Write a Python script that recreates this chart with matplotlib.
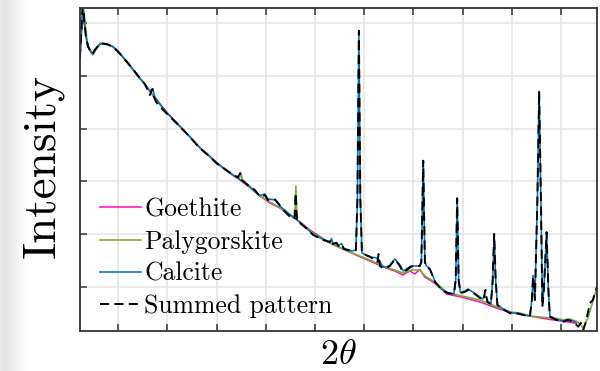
import matplotlib
matplotlib.use("Agg")
import matplotlib.pyplot as plt
from matplotlib.lines import Line2D
import numpy as np

# ---- data (2theta in degrees, intensity in counts) ----
summed_x = [6.10, 6.25, 6.40, 6.55, 6.71, 6.91, 7.11, 7.39, 7.62, 7.93, 8.20, 8.81, 9.48, 9.99,
            10.47, 11.01, 11.59, 12.20, 12.70, 13.21, 13.47, 13.62, 13.85, 14.23, 14.91, 15.92,
            16.60, 17.28, 18.29, 19.11, 19.99, 20.83, 21.68, 22.15, 22.41, 22.56, 23.37, 23.88,
            24.39, 24.70, 24.90, 25.20, 25.61, 25.91, 26.32, 26.76, 27.44, 27.90, 28.03, 28.15,
            28.46, 29.07, 29.81, 30.82, 31.50, 31.68, 31.81, 32.18, 32.37, 32.69, 32.93, 33.33,
            33.74, 34.15, 34.30, 34.45, 34.60, 34.76, 35.16, 35.57, 36.08, 36.33, 36.45, 36.59,
            36.89, 37.27, 37.60, 38.11, 38.55, 38.95, 39.33, 39.74, 40.14, 40.65, 40.80, 40.99,
            41.16, 41.31, 41.67, 42.17, 42.86, 43.53, 44.11, 44.29, 44.44, 44.59, 44.77, 45.22,
            45.56, 46.24, 46.75, 47.10, 47.31, 47.51, 47.87, 48.05, 48.20, 48.35, 48.53, 49.12,
            49.80, 50.41, 51.15, 51.83, 52.03, 52.16, 52.34, 52.59, 52.77, 52.95, 53.10, 53.25,
            53.53, 53.71, 53.86, 54.54, 55.21, 55.69, 56.23, 56.74, 57.01, 57.25, 57.52, 57.93,
            58.23, 58.43, 58.64]
summed_y = [5341, 5872, 6450, 6024, 5759, 5569, 5493, 5417, 5493, 5569, 5620, 5607, 5555, 5461,
            5360, 5240, 5104, 4956, 4847, 4639, 4753, 4601, 4506, 4417, 4291, 4102,
            3974, 3842, 3627, 3500, 3342, 3234, 3120, 3082, 3158, 3025, 2898, 2836,
            2708, 2712, 2741, 2646, 2665, 2659, 2570, 2456, 2329, 2285, 2779, 2247,
            2209, 2114, 1982, 1887, 1849, 1900, 1811, 1830, 1773, 1811, 1716, 1697,
            1678, 1697, 2646, 5859, 2646, 1640, 1602, 1570, 1507, 1469, 1621, 1393,
            1355, 1355, 1393, 1520, 1412, 1279, 1317, 1380, 1393, 1393, 1469, 3392,
            1469, 1374, 1330, 1095, 938, 875, 862, 1127, 2678, 1127, 881, 900,
            938, 862, 786, 748, 938, 710, 672, 1127, 2000, 1127, 653, 571,
            495, 501, 463, 431, 748, 1203, 748, 2646, 4715, 2646, 621, 938,
            2033, 938, 431, 368, 336, 368, 336, 241, 311, 178, 330, 685,
            748, 875, 995]

goethite_x = [6.10, 6.25, 6.40, 6.55, 6.71, 6.91, 7.11, 7.39, 7.62, 7.93, 8.20, 8.81, 9.48, 9.99,
              10.47, 11.01, 11.59, 12.20, 12.70, 13.21, 13.72, 14.23, 14.91, 15.92, 16.60, 17.28,
              18.29, 19.11, 19.99, 20.83, 21.68, 22.36, 23.37, 24.39, 25.41, 26.42, 27.44, 28.46,
              29.78, 31.50, 33.03, 34.15, 35.57, 37.20, 38.11, 38.92, 39.63, 40.14, 40.65, 41.16,
              41.67, 42.68, 43.36, 44.72, 46.75, 48.78, 50.41, 52.16, 53.86, 55.56, 56.57]
goethite_y = [5341, 5872, 6290, 6024, 5759, 5569, 5493, 5417, 5493, 5569, 5620, 5607, 5555, 5461,
              5360, 5240, 5104, 4956, 4847, 4715, 4582, 4468, 4316, 4107, 3974, 3842,
              3633, 3500, 3348, 3225, 3111, 3025, 2883, 2722, 2589, 2494, 2361, 2228,
              2038, 1830, 1697, 1602, 1488, 1355, 1298, 1222, 1298, 1241, 1327, 1179,
              1127, 995, 862, 810, 710, 571, 492, 431, 378, 336, 306]

palygorskite_x = [6.10, 6.25, 6.50, 6.66, 6.81, 7.01, 7.39, 7.72, 8.20, 8.81, 9.48, 9.99, 10.47,
                  11.01, 11.59, 12.20, 12.70, 13.21, 13.72, 14.23, 14.91, 15.92, 16.60, 17.28,
                  18.29, 19.11, 19.99, 20.83, 21.68, 22.31, 22.46, 22.61, 23.37, 24.39, 25.41,
                  26.42, 27.44, 27.93, 28.05, 28.17, 28.46, 29.78, 31.50, 33.03, 34.15, 35.57,
                  37.20, 38.11, 38.92, 39.84, 40.65, 41.16, 41.67, 42.68, 43.39, 44.72, 46.75,
                  48.78, 49.80, 50.81, 51.83, 52.85, 53.86, 54.54, 55.21, 55.89, 56.71, 57.25,
                  57.72, 58.13, 58.64]
palygorskite_y = [5341, 5777, 6252, 5967, 5683, 5531, 5398, 5493, 5607, 5597, 5550, 5455, 5350,
                  5227, 5094, 4952, 4838, 4715, 4582, 4458, 4307, 4107, 3974, 3842,
                  3633, 3500, 3348, 3225, 3111, 3063, 3139, 3035, 2893, 2722, 2608,
                  2503, 2361, 2304, 2912, 2266, 2219, 2019, 1830, 1697, 1611, 1507,
                  1365, 1317, 1260, 1317, 1317, 1203, 1146, 1014, 890, 833, 748,
                  596, 520, 501, 444, 425, 406, 397, 368, 387, 330, 216,
                  406, 653, 995]

calcite_x = [6.10, 6.25, 6.40, 6.55, 6.71, 6.91, 7.11, 7.39, 7.62, 7.93, 8.20, 8.81, 9.48, 9.99,
             10.47, 11.01, 11.59, 12.20, 12.70, 13.21, 13.49, 13.72, 14.23, 14.91, 15.92, 16.60,
             17.28, 18.29, 19.11, 19.99, 20.83, 21.68, 22.36, 23.37, 24.39, 24.90, 25.20, 25.61,
             25.91, 26.42, 27.44, 28.46, 29.81, 30.82, 31.50, 31.68, 31.81, 32.18, 32.37, 32.69,
             32.93, 33.74, 34.15, 34.30, 34.45, 34.60, 34.76, 35.57, 36.38, 36.89, 37.27, 37.60,
             38.11, 38.62, 38.95, 39.74, 40.14, 40.65, 40.80, 40.99, 41.16, 41.31, 41.67, 42.17,
             42.86, 43.53, 44.11, 44.29, 44.44, 44.59, 44.77, 45.22, 45.56, 46.24, 47.05, 47.31,
             47.56, 47.87, 48.05, 48.20, 48.35, 48.53, 49.12, 49.80, 51.15, 51.83, 52.03, 52.16,
             52.34, 52.59, 52.77, 52.95, 53.10, 53.25, 53.53, 53.71, 53.86, 54.54, 55.21, 55.69,
             56.23, 56.50]
calcite_y = [5341, 5872, 6290, 6024, 5759, 5569, 5493, 5417, 5493, 5569, 5620, 5607, 5555, 5461,
             5360, 5240, 5104, 4956, 4847, 4715, 4762, 4601, 4468, 4307, 4117, 3984,
             3851, 3642, 3509, 3358, 3234, 3120, 3035, 2902, 2731, 2760, 2665, 2655,
             2646, 2532, 2371, 2228, 1991, 1896, 1849, 1915, 1820, 1839, 1782, 1820,
             1725, 1678, 1697, 2646, 5853, 2646, 1640, 1564, 1545, 1374, 1374, 1412,
             1526, 1412, 1298, 1393, 1393, 1393, 1469, 3386, 1469, 1393, 1346, 1108,
             947, 881, 862, 1127, 2674, 1127, 890, 919, 957, 871, 767, 824,
             710, 672, 1127, 2000, 1127, 653, 577, 511, 473, 444, 748, 1213,
             748, 2646, 4705, 2646, 634, 938, 2038, 938, 444, 378, 349, 378,
             349, 321]

labels = ["Goethite", "Palygorskite", "Calcite", "Summed pattern"]
xticks = [10, 15, 20, 25, 30, 35, 40, 45, 50, 55]
yticks = [1000, 2000, 3000, 4000, 5000, 6000]

# ---- style ----
plt.rcParams['mathtext.fontset'] = 'cm'
c_goe = '#ff14b4'
c_pal = '#77ac30'
c_cal = '#0072bd'
lw_c = 1.15
lw_k = 1.4
dash = (4.7, 2.7)

fig = plt.figure(figsize=(6.0, 3.71), dpi=100)
fig.patch.set_facecolor('white')

# faint screenshot gradient on the far left
bg = fig.add_axes([0, 0, 0.05, 1], zorder=-5)
grad = np.array([[0.90, 0.89, 0.90, 0.92, 0.94, 0.96, 0.98, 0.99, 1.0]])
bg.imshow(grad, cmap='gray', vmin=0, vmax=1, aspect='auto', extent=[0, 1, 0, 1],
          interpolation='bicubic')
bg.set_axis_off()

ax = fig.add_axes([80/600, 1-331/371, 517/600, 323.5/371])
ax.set_xlim(6.11, 58.65)
ax.set_ylim(159, 6300)

ax.plot(goethite_x, goethite_y, color=c_goe, lw=lw_c, label=labels[0])
ax.plot(palygorskite_x, palygorskite_y, color=c_pal, lw=lw_c, label=labels[1])
ax.plot(calcite_x, calcite_y, color=c_cal, lw=lw_c, label=labels[2])
ax.plot(summed_x, summed_y, color='black', lw=lw_k, dashes=dash, label=labels[3])

ax.set_xticks(xticks)
ax.set_yticks(yticks)
ax.set_xticklabels([])
ax.set_yticklabels([])
ax.grid(True, color='#e4e4e4', lw=1.1)
ax.set_axisbelow(True)
ax.tick_params(direction='in', length=5, width=1.1, color='#333333',
               top=True, bottom=True, left=True, right=False)
for s in ax.spines.values():
    s.set_color('#333333')
    s.set_linewidth(1.3)

handles = [Line2D([], [], color=c_goe, lw=lw_c),
           Line2D([], [], color=c_pal, lw=lw_c),
           Line2D([], [], color=c_cal, lw=lw_c),
           Line2D([], [], color='black', lw=lw_k, dashes=dash)]
leg = ax.legend(handles, labels, loc='lower left', bbox_to_anchor=(0.0387, 0.04),
                frameon=False, borderpad=0, borderaxespad=0, handlelength=1.6,
                handletextpad=0.12, labelspacing=0.33,
                prop={'family': 'cmr10', 'size': 18.5})

fig.text(43/600, 1-166/371, 'Intensity', rotation=90, fontsize=34, family='cmr10',
         ha='center', va='center')
fig.text(338/600, 1-354/371, r'$2\theta$', fontsize=26, ha='center', va='center')

fig.savefig('out.png', dpi=100)
